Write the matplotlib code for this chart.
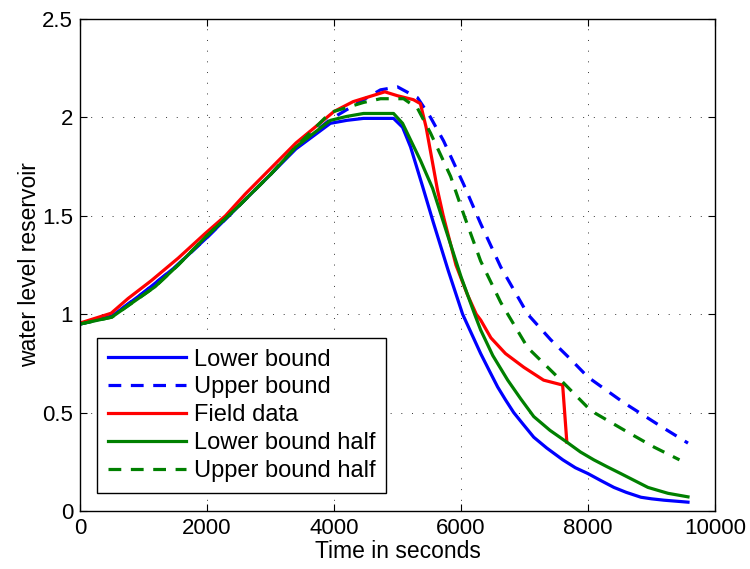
import matplotlib
matplotlib.use("Agg")
from matplotlib import pyplot as plt

plt.rcParams['font.family'] = ['Liberation Sans', 'DejaVu Sans']

# Lower bound (blue solid)
lb_t = [0, 500, 1000, 1500, 2000, 2500, 3000, 3400, 3943, 4200, 4464, 4937, 5079,
        5205, 5394, 5560, 5800, 6025, 6309, 6450, 6577, 6700, 6830, 6980, 7145,
        7350, 7603, 7800, 8000, 8200, 8407, 8600, 8833, 9000, 9196, 9574]
lb_y = [0.95, 0.99, 1.11, 1.24, 1.39, 1.55, 1.71, 1.84, 1.97, 1.985, 1.995, 1.995,
        1.95, 1.85, 1.65, 1.47, 1.22, 1.00, 0.80, 0.71, 0.63, 0.565, 0.50, 0.44,
        0.375, 0.32, 0.26, 0.22, 0.19, 0.155, 0.12, 0.095, 0.07, 0.062, 0.055, 0.045]

# Upper bound (blue dashed)
ub_t = [0, 500, 1000, 1500, 2000, 2500, 3000, 3400, 3943, 4464, 4732, 5000, 5315,
        5520, 5726, 6041, 6309, 6625, 7050, 7413, 7729, 8000, 8565, 9148, 9574]
ub_y = [0.95, 0.99, 1.11, 1.24, 1.39, 1.55, 1.71, 1.85, 1.99, 2.09, 2.14, 2.155,
        2.10, 2.00, 1.88, 1.66, 1.46, 1.24, 1.00, 0.87, 0.77, 0.68, 0.55, 0.43, 0.345]

# Field data (red)
fd_t = [0, 490, 757, 1120, 1546, 1970, 2290, 2600, 3000, 3400, 3700, 4000, 4300,
        4600, 4800, 5000, 5250, 5360, 5450, 5630, 5720, 5920, 6100, 6240, 6310,
        6470, 6700, 6990, 7300, 7600, 7666]
fd_y = [0.955, 1.005, 1.08, 1.17, 1.285, 1.41, 1.50, 1.61, 1.74, 1.87, 1.95, 2.03,
        2.08, 2.11, 2.13, 2.11, 2.09, 2.07, 1.95, 1.63, 1.50, 1.25, 1.10, 1.00, 0.97,
        0.88, 0.80, 0.73, 0.665, 0.64, 0.35]

# Lower bound half (green solid)
lh_t = [0, 500, 1183, 1546, 1970, 2500, 3000, 3400, 3943, 4200, 4464, 4937, 5079,
        5363, 5552, 5770, 6000, 6214, 6309, 6500, 6735, 6940, 7145, 7400, 7666,
        7880, 8091, 8300, 8517, 8730, 8943, 9100, 9259, 9574]
lh_y = [0.95, 0.985, 1.14, 1.25, 1.39, 1.55, 1.71, 1.85, 1.985, 2.005, 2.02, 2.02,
        1.97, 1.78, 1.64, 1.42, 1.19, 1.00, 0.92, 0.79, 0.665, 0.57, 0.48, 0.41,
        0.35, 0.30, 0.26, 0.225, 0.19, 0.155, 0.12, 0.105, 0.09, 0.072]

# Upper bound half (green dashed)
uh_t = [0, 500, 1183, 1546, 1970, 2500, 3000, 3400, 3943, 4464, 4732, 5095, 5315,
        5520, 5836, 6050, 6309, 6625, 7050, 7571, 8044, 8628, 9038, 9440]
uh_y = [0.95, 0.985, 1.14, 1.25, 1.39, 1.55, 1.71, 1.85, 2.025, 2.076, 2.095, 2.095,
        2.046, 1.92, 1.70, 1.50, 1.27, 1.06, 0.83, 0.665, 0.51, 0.40, 0.325, 0.26]

fig = plt.figure(figsize=(7.5, 5.69), dpi=100)
ax = fig.add_axes([0.1067, 0.1019, 0.8467, 0.8647])

lw = 2.3
dash = (4, 3)
ax.plot(lb_t, lb_y, color='blue', lw=lw, label='Lower bound')
ax.plot(ub_t, ub_y, color='blue', lw=lw, dashes=dash, label='Upper bound')
ax.plot(fd_t, fd_y, color='red', lw=lw, label='Field data')
ax.plot(lh_t, lh_y, color=(0, 0.5, 0), lw=lw, label='Lower bound half')
ax.plot(uh_t, uh_y, color=(0, 0.5, 0), lw=lw, dashes=dash, label='Upper bound half')

ax.set_xlim(0, 10000)
ax.set_ylim(0, 2.5)
ax.set_xticks([0, 2000, 4000, 6000, 8000, 10000])
ax.set_yticks([0, 0.5, 1, 1.5, 2, 2.5])
ax.set_yticklabels(['0', '0.5', '1', '1.5', '2', '2.5'])
ax.grid(True, color='black', linestyle=(0, (1, 10)), linewidth=0.7, alpha=0.8)
ax.tick_params(direction='in', top=True, right=True, length=5, labelsize=16,
               width=0.8, pad=5)
for s in ax.spines.values():
    s.set_linewidth(1.0)

ax.set_xlabel('Time in seconds', fontsize=16.5, labelpad=1)
ax.set_ylabel('water level reservoir', fontsize=16.5, labelpad=1)

leg = ax.legend(loc='lower left', bbox_to_anchor=(0.027, 0.037), borderaxespad=0,
                fontsize=17, fancybox=False, framealpha=1, edgecolor='black',
                handlelength=3.3, handletextpad=0.35, labelspacing=0.25,
                borderpad=0.45)
leg.get_frame().set_linewidth(1.0)

fig.savefig('out.png', dpi=100)
